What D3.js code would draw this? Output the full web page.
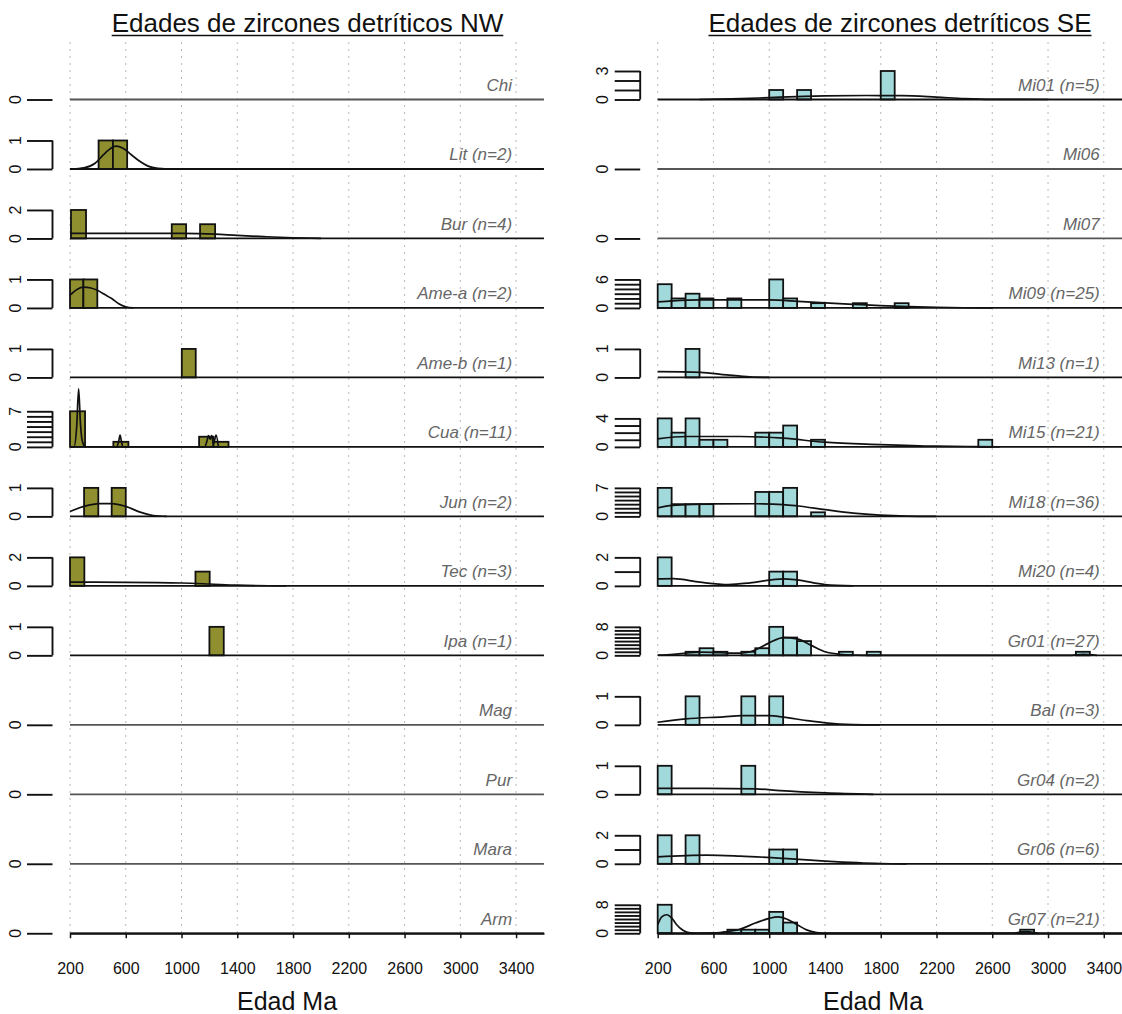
<!DOCTYPE html>
<html>
<head>
<meta charset="utf-8">
<script src="https://cdn.jsdelivr.net/npm/d3@7"></script>
<style>
  body { margin: 0; background: #fff; }
  text { font-family: "Liberation Sans", Arial, Helvetica, sans-serif; }
</style>
</head>
<body>
<div id="chart"></div>
<script>

//DATA//
const xTicks = [200, 600, 1000, 1400, 1800, 2200, 2600, 3000, 3400];
const xDomain = [200, 3600];

const leftTitle = "Edades de zircones detríticos NW";
const rightTitle = "Edades de zircones detríticos SE";
const xLabel = "Edad Ma";

const leftLabels = ["Chi", "Lit (n=2)", "Bur (n=4)", "Ame-a (n=2)", "Ame-b (n=1)", "Cua (n=11)",
  "Jun (n=2)", "Tec (n=3)", "Ipa (n=1)", "Mag", "Pur", "Mara", "Arm"];
const leftYMax = [0, 1, 2, 1, 1, 7, 1, 2, 1, 0, 0, 0, 0];
const leftYStep = [1, 1, 2, 1, 1, 1, 1, 2, 1, 1, 1, 1, 1];
const leftYTop = [1, 1, 2, 1, 1, 5.6, 1, 2, 1, 1, 1, 1, 1];

// bars as [from Ma, to Ma, count]
const leftBars = [
  [],
  [[405, 508, 1], [508, 610, 1]],
  [[207, 315, 2], [930, 1033, 1], [1133, 1241, 1]],
  [[200, 296, 1], [296, 396, 1]],
  [[1002, 1102, 1]],
  [[200, 308, 7], [511, 619, 1], [1126, 1229, 2], [1229, 1337, 1]],
  [[301, 403, 1], [499, 600, 1]],
  [[200, 303, 2], [1100, 1202, 1]],
  [[1200, 1303, 1]],
  [], [], [], []
];

// density curves as [Ma, value]
const leftDensity = [
  [],
  [[210, 0], [300, 0.04], [380, 0.2], [430, 0.45], [480, 0.68], [530, 0.8], [580, 0.73], [640, 0.5], [700, 0.27], [760, 0.1], [830, 0.02], [900, 0]],
  [[200, 0.35], [600, 0.35], [1000, 0.35], [1240, 0.3], [1400, 0.21], [1610, 0.12], [1800, 0.05], [2000, 0]],
  [[200, 0.45], [250, 0.65], [296, 0.73], [350, 0.7], [396, 0.62], [450, 0.47], [499, 0.33], [550, 0.15], [600, 0.04], [655, 0]],
  [],
  [[200, 0], [229, 0], [248, 4], [262, 11.4], [274, 5], [284, 1.8], [296, 0.5], [310, 0],
   [535, 0], [550, 1.2], [559, 2.3], [568, 1.2], [580, 0],
   [1165, 0], [1181, 1.0], [1193, 2.2], [1205, 1.5], [1217, 2.2], [1229, 0.6], [1248, 2.3], [1265, 0]],
  [[200, 0.17], [300, 0.35], [415, 0.45], [499, 0.45], [600, 0.35], [703, 0.15], [798, 0.03], [894, 0]],
  [[200, 0.26], [600, 0.25], [1000, 0.2], [1200, 0.13], [1400, 0.05], [1750, 0]],
  [],
  [], [], [], []
];

const rightLabels = ["Mi01 (n=5)", "Mi06", "Mi07", "Mi09 (n=25)", "Mi13 (n=1)", "Mi15 (n=21)",
  "Mi18 (n=36)", "Mi20 (n=4)", "Gr01 (n=27)", "Bal (n=3)", "Gr04 (n=2)", "Gr06 (n=6)", "Gr07 (n=21)"];
const rightYMax = [3, 0, 0, 6, 1, 4, 7, 2, 8, 1, 1, 2, 8];
const rightYStep = [1, 1, 1, 1, 1, 1, 1, 1, 1, 1, 1, 1, 1];
const rightYTop = [3, 1, 1, 6, 1, 4, 7, 2, 8, 1, 1, 2, 8];

const rightBars = [
  [[1000, 1100, 1], [1200, 1300, 1], [1800, 1900, 3]],
  [],
  [],
  [[200, 300, 5], [300, 400, 2], [400, 500, 3], [500, 600, 2], [700, 800, 2], [1000, 1100, 6],
   [1100, 1200, 2], [1300, 1400, 1], [1600, 1700, 1], [1900, 2000, 1]],
  [[400, 500, 1]],
  [[200, 300, 4], [300, 400, 2], [400, 500, 4], [500, 600, 1], [600, 700, 1], [900, 1000, 2],
   [1000, 1100, 2], [1100, 1200, 3], [1300, 1400, 1], [2500, 2600, 1]],
  [[200, 300, 7], [300, 400, 3], [400, 500, 3], [500, 600, 3], [900, 1000, 6], [1000, 1100, 6],
   [1100, 1200, 7], [1300, 1400, 1]],
  [[200, 300, 2], [1000, 1100, 1], [1100, 1200, 1]],
  [[400, 500, 1], [500, 600, 2], [600, 700, 1], [800, 900, 1], [900, 1000, 2], [1000, 1100, 8],
   [1100, 1200, 5], [1200, 1300, 4], [1500, 1600, 1], [1700, 1800, 1], [3200, 3300, 1]],
  [[400, 500, 1], [800, 900, 1], [1000, 1100, 1]],
  [[200, 300, 1], [800, 900, 1]],
  [[200, 300, 2], [400, 500, 2], [1000, 1100, 1], [1100, 1200, 1]],
  [[200, 300, 8], [700, 800, 1], [800, 900, 1], [900, 1000, 1], [1000, 1100, 6], [1100, 1200, 3],
   [2800, 2900, 1]]
];

const rightDensity = [
  [[500, 0], [800, 0.1], [1000, 0.2], [1200, 0.3], [1400, 0.38], [1700, 0.42], [1950, 0.4], [2200, 0.25], [2400, 0.1], [2600, 0.02], [3000, 0]],
  [],
  [],
  [[200, 1.27], [305, 1.48], [506, 1.69], [790, 1.69], [1003, 1.69], [1206, 1.4], [1402, 1.06], [1603, 0.77],
   [1796, 0.5], [2004, 0.28], [2198, 0.14], [2391, 0.04], [2600, 0]],
  [[200, 0.2], [506, 0.18], [695, 0.09], [862, 0.02], [1000, 0]],
  [[200, 1.13], [403, 1.46], [790, 1.46], [1101, 1.22], [1395, 0.66], [1796, 0.33], [2198, 0.1], [2463, 0.05], [2654, 0]],
  [[200, 2.06], [305, 2.7], [604, 3.05], [900, 3.1], [1101, 2.9], [1206, 2.55], [1402, 1.65], [1603, 0.82],
   [1796, 0.33], [1985, 0.08], [2198, 0]],
  [[200, 0.49], [312, 0.51], [503, 0.26], [707, 0.09], [862, 0.21], [1029, 0.44], [1101, 0.49], [1196, 0.42],
   [1400, 0.09], [1603, 0]],
  [[200, 0.05], [312, 0.3], [403, 0.6], [500, 0.9], [600, 0.85], [700, 0.6], [790, 0.6], [900, 1.5], [1000, 3.5],
   [1101, 5.0], [1201, 4.6], [1302, 2.8], [1402, 1.0], [1507, 0.3], [1603, 0.08], [1750, 0],
   [3150, 0], [3250, 0.3], [3350, 0]],
  [[200, 0.09], [403, 0.21], [671, 0.28], [802, 0.32], [1000, 0.32], [1101, 0.27], [1268, 0.15], [1402, 0.07],
   [1603, 0.01], [1794, 0]],
  [[200, 0.21], [551, 0.21], [903, 0.19], [1077, 0.13], [1402, 0.05], [1746, 0]],
  [[200, 0.49], [551, 0.61], [790, 0.54], [1101, 0.38], [1402, 0.19], [1796, 0.02], [1985, 0]],
  [[200, 2.4], [229, 4.6], [265, 5.2], [300, 4.3], [336, 2.4], [384, 0.76], [432, 0.1], [480, 0],
   [623, 0.1], [699, 0.5], [790, 1.14], [900, 2.86], [1000, 4.2], [1065, 4.6], [1125, 4.0], [1201, 2.4],
   [1268, 0.95], [1340, 0.2], [1402, 0],
   [2750, 0], [2800, 0.3], [2840, 0.5], [2880, 0.3], [2930, 0]]
];

//LAYOUT//
const width = 1122;
const height = 1014;
const rowTop = 99.5;   // baseline of first row
const rowStep = 69.48; // distance between baselines
const rowH = 28.5;     // pixel height of the top tick
const pxPerMa = 0.1394;

const svg = d3.select("#chart")
  .append("svg")
  .attr("width", width)
  .attr("height", height);

function drawPanel(p) {
  const g = svg.append("g");

  const x = d3.scaleLinear()
    .domain(xDomain)
    .range([p.left, p.left + (xDomain[1] - xDomain[0]) * pxPerMa]);

  const lastBase = rowTop + rowStep * (p.labels.length - 1);

  //1. GRID
  g.append("g")
    .selectAll("line")
    .data(xTicks)
    .enter().append("line")
      .attr("x1", d => x(d)).attr("x2", d => x(d))
      .attr("y1", 42).attr("y2", lastBase)
      .attr("stroke", "#b8b8b8")
      .attr("stroke-width", 1)
      .attr("stroke-dasharray", "2,5");

  //2. ROWS
  p.labels.forEach(function(name, i) {
    const base = rowTop + rowStep * i;
    const y = d3.scaleLinear()
      .domain([0, p.yTop[i]])
      .range([base, base - rowH]);
    const row = g.append("g");
    const hasData = p.bars[i].length > 0;

    // bars
    row.selectAll("rect")
      .data(p.bars[i])
      .enter().append("rect")
        .attr("x", d => x(d[0]))
        .attr("width", d => x(d[1]) - x(d[0]))
        .attr("y", d => y(d[2]))
        .attr("height", d => y(0) - y(d[2]))
        .attr("fill", p.fill)
        .attr("stroke", "#111")
        .attr("stroke-width", 1.8);

    // baseline
    row.append("line")
      .attr("x1", x(xDomain[0])).attr("x2", x(xDomain[1]))
      .attr("y1", y(0)).attr("y2", y(0))
      .attr("stroke", hasData ? "#111" : "#555")
      .attr("stroke-width", 1.8);

    // density
    if (p.density[i].length) {
      const line = d3.line()
        .x(d => x(d[0]))
        .y(d => y(d[1]))
        .curve(d3.curveMonotoneX);
      row.append("path")
        .datum(p.density[i])
        .attr("d", line)
        .attr("fill", "none")
        .attr("stroke", "#111")
        .attr("stroke-width", 1.7);
    }

    // y axis (ladder of ticks)
    const axX = x(xDomain[0]) - 17.5;
    const ticks = d3.range(0, p.yMax[i] + 0.001, p.yStep[i]);
    if (ticks[ticks.length - 1] !== p.yMax[i]) ticks.push(p.yMax[i]);
    const yAxis = row.append("g")
      .attr("transform", `translate(${axX},0)`)
      .call(d3.axisLeft(y).tickValues(ticks).tickSize(25.5).tickSizeOuter(0).tickFormat(""));
    yAxis.select(".domain").remove();
    yAxis.selectAll(".tick line").attr("stroke", "#111").attr("stroke-width", 1.9);
    if (p.yMax[i] > 0) {
      row.append("line")
        .attr("x1", axX).attr("x2", axX)
        .attr("y1", y(0)).attr("y2", y(p.yMax[i]))
        .attr("stroke", "#111")
        .attr("stroke-width", 1.9);
    }
    const shown = p.yMax[i] > 0 ? [0, p.yMax[i]] : [0];
    row.selectAll(".ylab")
      .data(shown)
      .enter().append("text")
        .attr("class", "ylab")
        .attr("transform", d => `translate(${axX - 32},${y(d)}) rotate(-90)`)
        .attr("text-anchor", "middle")
        .attr("font-size", "16px")
        .attr("fill", "#111")
        .text(d => d);

    // sample label
    row.append("text")
      .attr("x", x(3400) - 4)
      .attr("y", base - 8.5)
      .attr("text-anchor", "end")
      .attr("font-size", "17px")
      .attr("font-style", "italic")
      .attr("fill", "#666")
      .text(name);
  });

  //3. X AXIS
  const xAxis = g.append("g")
    .attr("transform", `translate(0,${lastBase})`)
    .call(d3.axisBottom(x).tickValues(xTicks).tickFormat(d3.format("d"))
      .tickSize(5).tickSizeOuter(0).tickPadding(24.6));
  xAxis.select(".domain").attr("stroke", "#111").attr("stroke-width", 1.8);
  xAxis.selectAll(".tick line").attr("stroke", "#111").attr("stroke-width", 1.5);
  xAxis.selectAll("text")
    .attr("font-size", "16px")
    .attr("fill", "#111")
    .style("font-family", '"Liberation Sans", Arial, sans-serif');

  //4. LABELS
  const title = g.append("text")
    .attr("x", p.titleX)
    .attr("y", 32)
    .attr("text-anchor", "middle")
    .attr("font-size", "26px")
    .attr("fill", "#111")
    .text(p.title);
  const tw = title.node().getComputedTextLength();
  g.append("line")
    .attr("x1", p.titleX - tw / 2).attr("x2", p.titleX + tw / 2)
    .attr("y1", 35.5).attr("y2", 35.5)
    .attr("stroke", "#111")
    .attr("stroke-width", 1.5);

  g.append("text")
    .attr("x", p.xLabelX)
    .attr("y", 1010)
    .attr("text-anchor", "middle")
    .attr("font-size", "25px")
    .attr("fill", "#111")
    .text(xLabel);
}

drawPanel({
  left: 70, labels: leftLabels, yMax: leftYMax, yStep: leftYStep, yTop: leftYTop,
  bars: leftBars, density: leftDensity, fill: "#8f8f30",
  title: leftTitle, titleX: 307.5, xLabelX: 287
});

drawPanel({
  left: 657.7, labels: rightLabels, yMax: rightYMax, yStep: rightYStep, yTop: rightYTop,
  bars: rightBars, density: rightDensity, fill: "#a2dadc",
  title: rightTitle, titleX: 900, xLabelX: 873
});

</script>
</body>
</html>
